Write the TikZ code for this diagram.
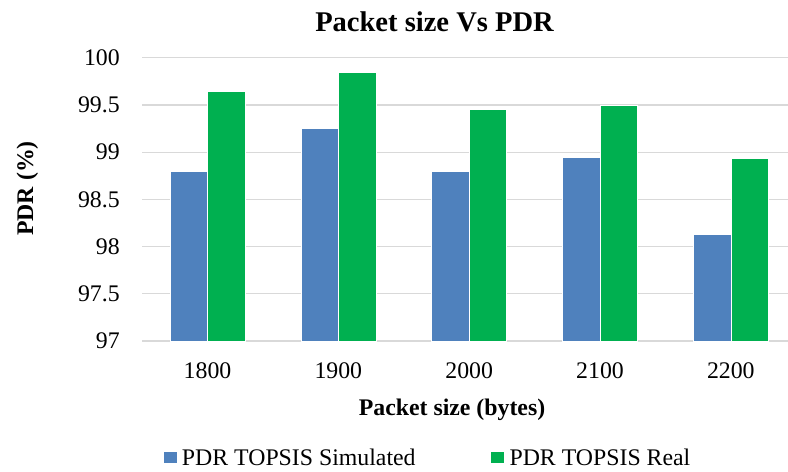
\documentclass[tikz,border=0pt]{standalone}
\usepackage{fontspec}
\setmainfont{Liberation Serif}
\definecolor{simblue}{HTML}{4F81BD}
\definecolor{realgreen}{HTML}{00B050}
\definecolor{gridgray}{HTML}{D9D9D9}
\tikzset{
  charttitle/.style={font=\fontsize{21.4}{25}\selectfont\bfseries, inner sep=0pt, anchor=base},
  axistitle/.style={font=\fontsize{17.85}{21}\selectfont\bfseries, inner sep=0pt, anchor=base},
  ticklabel/.style={font=\fontsize{17.85}{21}\selectfont, inner sep=0pt},
  legendtext/.style={font=\fontsize{17.85}{21}\selectfont, inner sep=0pt, anchor=base west},
  legendkey/.style={inner sep=0pt, minimum width=9.5pt, minimum height=8.7pt},
  gridline/.style={draw=gridgray, line width=1pt},
  simbar/.style={fill=simblue, draw=white, line width=0.4pt},
  realbar/.style={fill=realgreen, draw=white, line width=0.4pt},
}
\begin{document}
\begin{tikzpicture}[x=0.75pt,y=-0.75pt]
  \useasboundingbox (0,0) rectangle (788,471);
  \node[charttitle] (title) at (434.5,31.5) {Packet size Vs PDR};
  % value axis: 97 sits at 341, 0.5 per 47.2
  \begin{scope}[shift={(0,9497.8)},y=70.8pt]
    \draw[gridline] (142,97) -- (788,97);
    \draw[gridline] (142,97.5) -- (788,97.5);
    \draw[gridline] (142,98) -- (788,98);
    \draw[gridline] (142,98.5) -- (788,98.5);
    \draw[gridline] (142,99) -- (788,99);
    \draw[gridline] (142,99.5) -- (788,99.5);
    \draw[gridline] (142,100) -- (788,100);
    \node[ticklabel, anchor=east] (y970) at (120,97) {97};
    \node[ticklabel, anchor=east] (y975) at (120,97.5) {97.5};
    \node[ticklabel, anchor=east] (y980) at (120,98) {98};
    \node[ticklabel, anchor=east] (y985) at (120,98.5) {98.5};
    \node[ticklabel, anchor=east] (y990) at (120,99) {99};
    \node[ticklabel, anchor=east] (y995) at (120,99.5) {99.5};
    \node[ticklabel, anchor=east] (y1000) at (120,100) {100};
    \draw[simbar] (170,97) rectangle (207.5,98.8);
    \draw[realbar] (207.5,97) rectangle (245,99.65);
    \draw[simbar] (300.8,97) rectangle (338.3,99.25);
    \draw[realbar] (338.3,97) rectangle (375.8,99.85);
    \draw[simbar] (431.7,97) rectangle (469.2,98.8);
    \draw[realbar] (469.2,97) rectangle (506.7,99.45);
    \draw[simbar] (562.5,97) rectangle (600,98.95);
    \draw[realbar] (600,97) rectangle (637.5,99.5);
    \draw[simbar] (693.3,97) rectangle (730.8,98.13);
    \draw[realbar] (730.8,97) rectangle (768.3,98.94);
  \end{scope}
  \node[ticklabel] (x1800) at (207.5,371) {1800};
  \node[ticklabel] (x1900) at (338.3,371) {1900};
  \node[ticklabel] (x2000) at (469.2,371) {2000};
  \node[ticklabel] (x2100) at (600,371) {2100};
  \node[ticklabel] (x2200) at (730.8,371) {2200};
  \node[axistitle] (xtitle) at (452,415) {Packet size (bytes)};
  \node[axistitle, rotate=90] (ytitle) at (33,188.5) {PDR (\%)};
  \node[legendkey, fill=simblue] (keysim) at (170.3,457.5) {};
  \node[legendtext] (labsim) at (181.7,465.7) {PDR TOPSIS Simulated};
  \node[legendkey, fill=realgreen] (keyreal) at (497.5,457.5) {};
  \node[legendtext] (labreal) at (509.3,465.7) {PDR TOPSIS Real};
\end{tikzpicture}
\end{document}
